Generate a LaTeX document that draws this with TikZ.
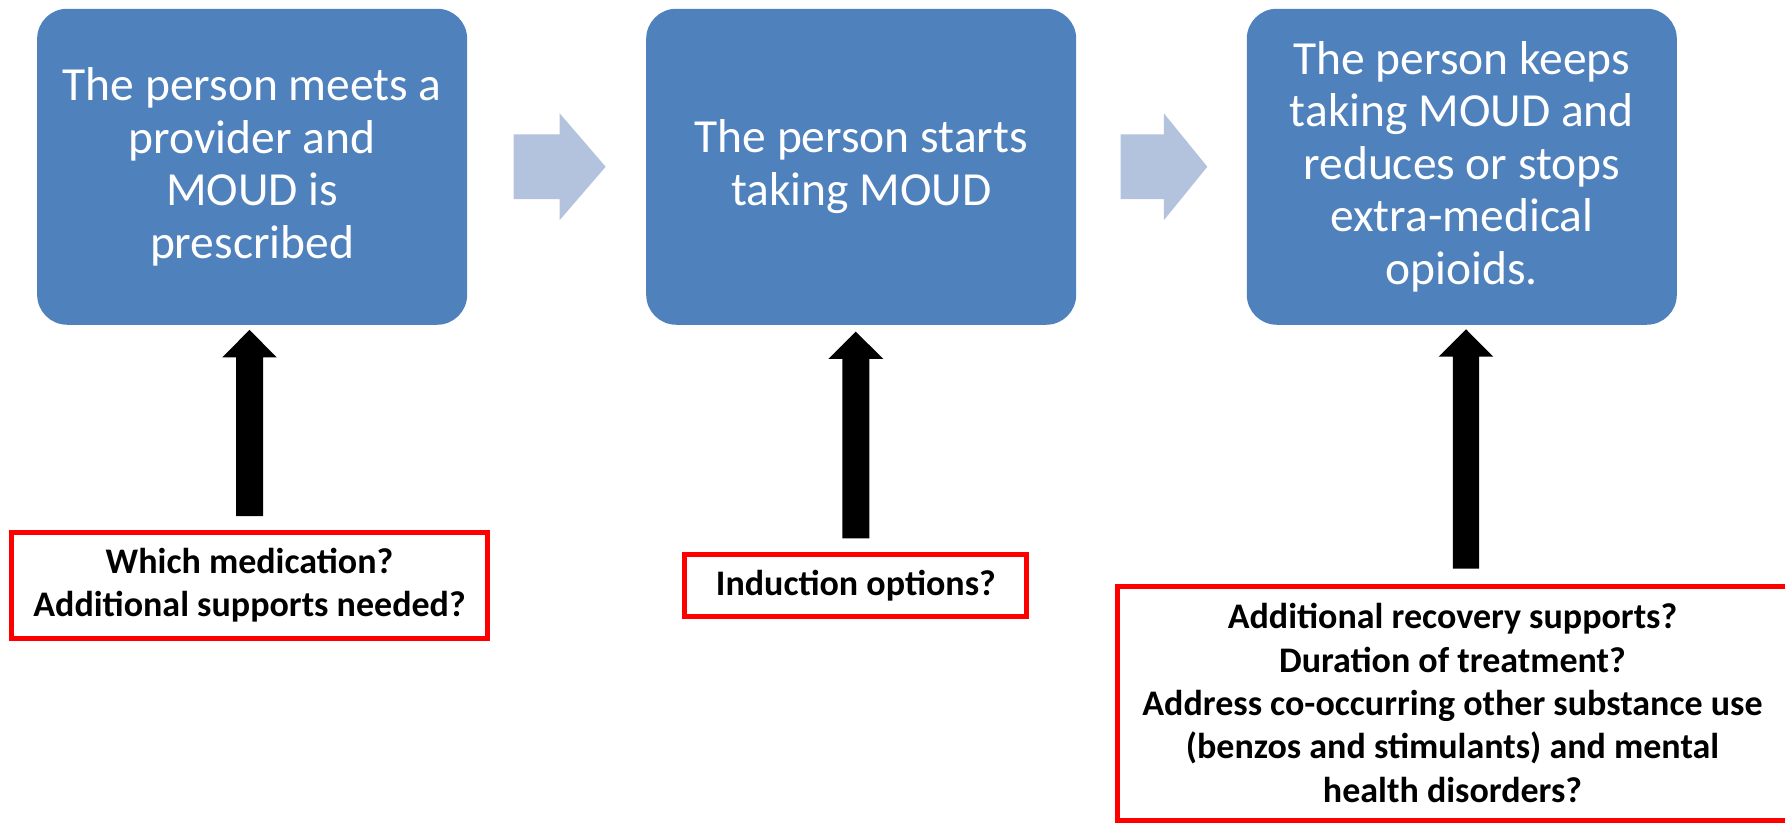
\documentclass[tikz,border=0pt]{standalone}
\usepackage{fontspec}
\setmainfont{Carlito}
\usetikzlibrary{calc}
\definecolor{boxblue}{HTML}{4F81BD}
\definecolor{arrowblue}{HTML}{B3C3DE}
\definecolor{qred}{HTML}{FF0000}
\newcommand\upblock[5]{%
  \fill (#1) ++(-#3,0) -- ($(#2)+(-#3,#5)$) -- ($(#2)+(-#4,#5)$) -- (#2)
    -- ($(#2)+(#4,#5)$) -- ($(#2)+(#3,#5)$) -- ($(#1)+(#3,0)$) -- cycle;}
\begin{document}
\begin{tikzpicture}[x=1pt,y=-1pt,
  stepbox/.style={fill=boxblue, rounded corners=30pt, minimum width=430pt,
    minimum height=316pt, inner sep=0pt, text=white, align=center,
    font=\fontsize{47.5pt}{52.5pt}\selectfont},
  qbox/.style={draw=qred, line width=5pt, inner sep=0pt, align=center,
    font=\bfseries\fontsize{36pt}{43.3pt}\selectfont},
  lightarrow/.style={fill=arrowblue}]
\useasboundingbox (0,0) rectangle (1785,822);
\clip (0,0) rectangle (1785,822);
\fill[white] (0,0) rectangle (1785,822);

% process boxes
\node[stepbox] (b1) at (252.15,166.75) {The person meets a\\provider and\\MOUD is\\prescribed};
\node[stepbox] (b2) at (861.2,166.75) {The person starts\\taking MOUD};
\node[stepbox] (b3) at (1461.8,166.75) {The person keeps\\taking MOUD and\\reduces or stops\\extra-medical\\opioids.};

% question boxes
\node[qbox, minimum width=476pt, minimum height=106pt] (r1) at (249.5,585.5)
  {Which medication?\\Additional supports needed?};
\node[qbox, minimum width=342pt, minimum height=61.7pt] (r2) at (855.8,585.65)
  {Induction options?};
\node[qbox, minimum width=670pt, minimum height=234pt] (r3) at (1452.5,703)
  {Additional recovery supports?\\Duration of treatment?\\Address co-occurring other substance use\\(benzos and stimulants) and mental\\health disorders?};

% light arrows between process boxes
\coordinate (la1) at ($(b1.east)+(46.3,0)$);
\fill[lightarrow] (la1) ++(0,-32.35) -- ++(46,0) -- ++(0,-21.05) -- ++(46,53.4)
  -- ++(-46,53.4) -- ++(0,-21.05) -- ++(-46,0) -- cycle;
\coordinate (la2) at ($(b2.east)+(44.2,0)$);
\fill[lightarrow] (la2) ++(0,-32.35) -- ++(43.3,0) -- ++(0,-21.05) -- ++(43.4,53.4)
  -- ++(-43.4,53.4) -- ++(0,-21.05) -- ++(-43.3,0) -- cycle;

% black up arrows
\coordinate (a1b) at ($(r1.north)+(0,-14)$);
\coordinate (a1t) at ($(a1b |- b1.south)+(0,5)$);
\upblock{a1b}{a1t}{13.5}{27.2}{27.3}
\coordinate (a2b) at ($(r2.north)+(0,-14)$);
\coordinate (a2t) at ($(a2b |- b2.south)+(0,6.7)$);
\upblock{a2b}{a2t}{13.5}{27.5}{27.3}
\coordinate (a3b) at ($(r3.north west)+(351,-15)$);
\coordinate (a3t) at ($(a3b |- b3.south)+(0,4.3)$);
\upblock{a3b}{a3t}{13.2}{27.2}{27.4}
\end{tikzpicture}
\end{document}
